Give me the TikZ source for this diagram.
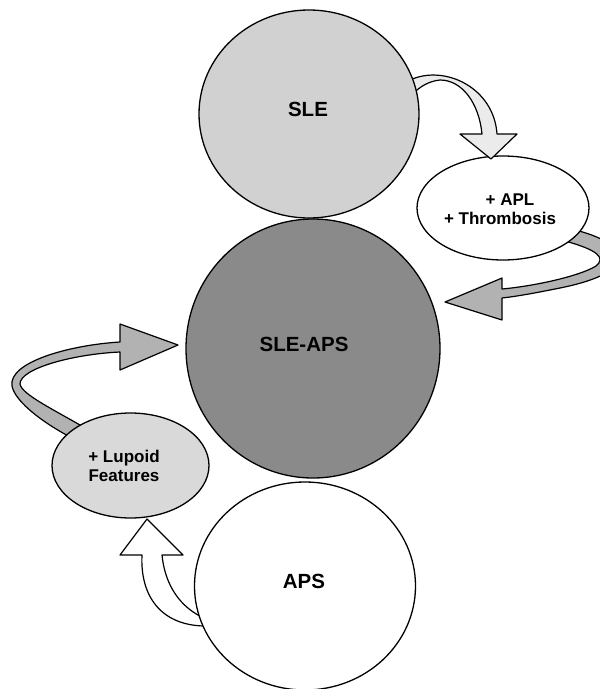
\documentclass[tikz,border=0pt]{standalone}
\usepackage{fontspec}
\setmainfont{Liberation Sans}
\usetikzlibrary{shapes.geometric}
\begin{document}
\begin{tikzpicture}[x=1pt,y=-1pt,
  blob/.style={ellipse, draw=black, line width=1.3pt, inner sep=0pt},
  lbl/.style={font=\bfseries\fontsize{20.5}{22}\selectfont, inner sep=0pt},
  slbl/.style={font=\bfseries\fontsize{17}{19.5}\selectfont, inner sep=0pt},
  band/.style={draw=black, line width=1.2pt, line join=round}]
\useasboundingbox (0,0) rectangle (600,689);
\clip (0,0) rectangle (600,689);
% arrow APL -> SLE-APS
\draw[band, fill=black!30] (575,230) .. controls (600,236) and (618,246) .. (618,258)
  .. controls (618,272) and (590,282) .. (560,288) .. controls (540,292) and (520,296) .. (502,298)
  -- (502,320) -- (445,302) -- (502,278) -- (502,289)
  .. controls (535,286) and (580,276) .. (596,266) .. controls (606,258) and (598,250) .. (565,241) -- cycle;
% arrow Lupoid -> SLE-APS
\draw[band, fill=black!30] (92,432) .. controls (55,410) and (22,395) .. (20,384)
  .. controls (20,368) and (75,354) .. (120,352) -- (120,370) -- (178,345) -- (120,324) -- (120,342)
  .. controls (70,345) and (8,362) .. (12,386) .. controls (15,402) and (45,425) .. (80,442) -- cycle;
% arrow APS -> Lupoid
\draw[band, fill=white] (204,626) .. controls (160,625) and (140,595) .. (142,555)
  -- (120,555) -- (147,519) -- (183,555) -- (162,555)
  .. controls (165,585) and (180,608) .. (206,619) -- cycle;
% APL ellipse
\node[blob, fill=white, minimum width=172, minimum height=104] (apl) at (503,208) {};
% arrow SLE -> APL
\draw[band, fill=black!8] (410,80) .. controls (445,64) and (494,88) .. (497,134)
  -- (517,134) -- (491,159) -- (460,134) -- (482,134)
  .. controls (479,103) and (462,80) .. (440,80) .. controls (430,81) and (420,86) .. (413,94) -- cycle;
% circles
\node[blob, fill=black!18, minimum width=220, minimum height=208] (sle) at (309,114) {};
\node[blob, fill=black!46, minimum width=254, minimum height=259] (sleaps) at (313,348.5) {};
\node[blob, fill=white, minimum width=221, minimum height=208] (aps) at (305,586) {};
\node[blob, fill=black!15, minimum width=157, minimum height=105] (lup) at (130.5,465.5) {};
% labels
\node[lbl] (tsle) at (308,109.5) {SLE};
\node[lbl] (tsleaps) at (304,344.5) {SLE-APS};
\node[lbl] (taps) at (304,581.5) {APS};
\node[slbl] (tapla) at (510,199.5) {+ APL};
\node[slbl] (taplb) at (500,218.5) {+ Thrombosis};
\node[slbl, align=center] (tlup) at (124,466) {+ Lupoid\\Features};
\end{tikzpicture}
\end{document}
